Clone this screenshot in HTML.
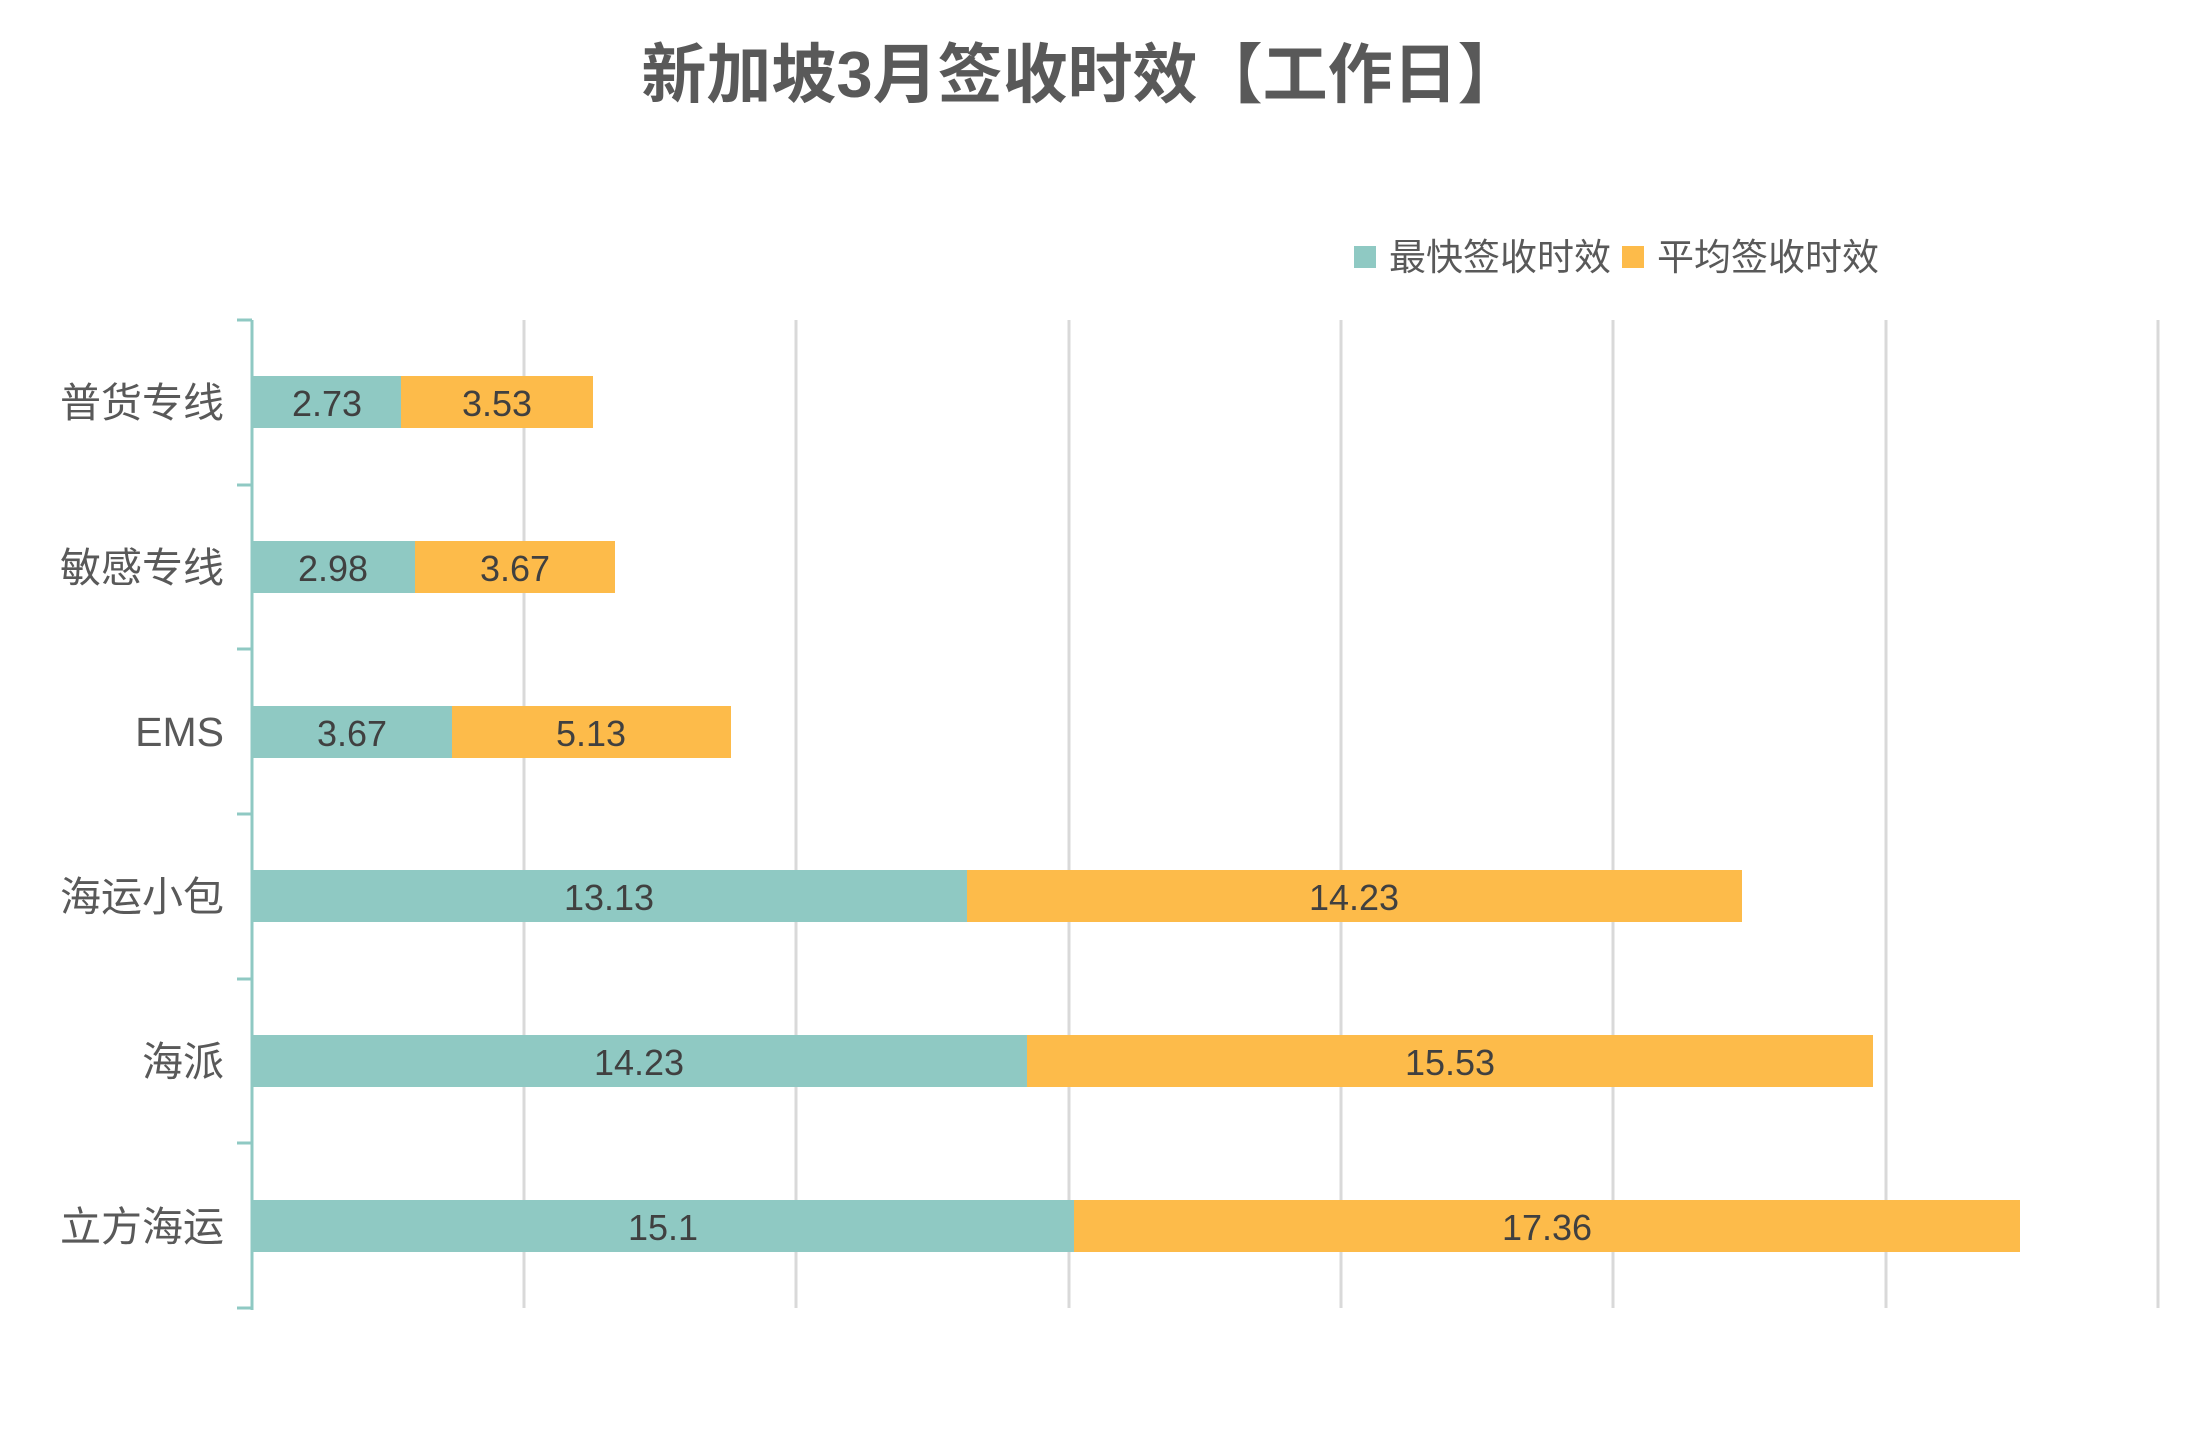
<!DOCTYPE html>
<html><head><meta charset="utf-8"><style>
html,body{margin:0;padding:0;background:#fff;}
svg{display:block;font-family:"Liberation Sans","Noto Sans CJK SC",sans-serif;}
</style></head><body>
<svg width="2189" height="1448" viewBox="0 0 2189 1448" xmlns="http://www.w3.org/2000/svg">
<rect width="2189" height="1448" fill="#fff"/>
<text x="1082" y="97" text-anchor="middle" font-size="65" font-weight="bold" fill="#595959">新加坡3月签收时效【工作日】</text>
<rect x="1354" y="246" width="22" height="22" fill="#8FC9C3"/>
<text x="1389" y="270" font-size="37" fill="#595959">最快签收时效</text>
<rect x="1622" y="246" width="22" height="22" fill="#FDBB4A"/>
<text x="1657" y="270" font-size="37" fill="#595959">平均签收时效</text>
<g stroke="#D9D9D9" stroke-width="3">
<line x1="524" y1="320" x2="524" y2="1308"/>
<line x1="796" y1="320" x2="796" y2="1308"/>
<line x1="1069" y1="320" x2="1069" y2="1308"/>
<line x1="1341" y1="320" x2="1341" y2="1308"/>
<line x1="1613" y1="320" x2="1613" y2="1308"/>
<line x1="1886" y1="320" x2="1886" y2="1308"/>
<line x1="2158" y1="320" x2="2158" y2="1308"/>
</g>
<g>
<rect x="252" y="376" width="149" height="52" fill="#8FC9C3"/><rect x="401" y="376" width="192" height="52" fill="#FDBB4A"/>
<rect x="252" y="541" width="163" height="52" fill="#8FC9C3"/><rect x="415" y="541" width="200" height="52" fill="#FDBB4A"/>
<rect x="252" y="706" width="200" height="52" fill="#8FC9C3"/><rect x="452" y="706" width="279" height="52" fill="#FDBB4A"/>
<rect x="252" y="870" width="715" height="52" fill="#8FC9C3"/><rect x="967" y="870" width="775" height="52" fill="#FDBB4A"/>
<rect x="252" y="1035" width="775" height="52" fill="#8FC9C3"/><rect x="1027" y="1035" width="846" height="52" fill="#FDBB4A"/>
<rect x="252" y="1200" width="822" height="52" fill="#8FC9C3"/><rect x="1074" y="1200" width="946" height="52" fill="#FDBB4A"/>
</g>
<g font-size="36" fill="#404040" text-anchor="middle">
<text x="327" y="416">2.73</text><text x="497" y="416">3.53</text>
<text x="333" y="581">2.98</text><text x="515" y="581">3.67</text>
<text x="352" y="746">3.67</text><text x="591" y="746">5.13</text>
<text x="609" y="910">13.13</text><text x="1354" y="910">14.23</text>
<text x="639" y="1075">14.23</text><text x="1450" y="1075">15.53</text>
<text x="663" y="1240">15.1</text><text x="1547" y="1240">17.36</text>
</g>
<g font-size="41" fill="#595959" text-anchor="end">
<text x="224" y="417">普货专线</text>
<text x="224" y="582">敏感专线</text>
<text x="224" y="746">EMS</text>
<text x="224" y="911">海运小包</text>
<text x="224" y="1076">海派</text>
<text x="224" y="1241">立方海运</text>
</g>
<g stroke="#8FC9C3" stroke-width="3">
<line x1="252" y1="320" x2="252" y2="1310"/>
<line x1="237" y1="320" x2="252" y2="320"/>
<line x1="237" y1="485" x2="252" y2="485"/>
<line x1="237" y1="649" x2="252" y2="649"/>
<line x1="237" y1="814" x2="252" y2="814"/>
<line x1="237" y1="979" x2="252" y2="979"/>
<line x1="237" y1="1143" x2="252" y2="1143"/>
<line x1="237" y1="1308" x2="252" y2="1308"/>
</g>
</svg>
</body></html>
